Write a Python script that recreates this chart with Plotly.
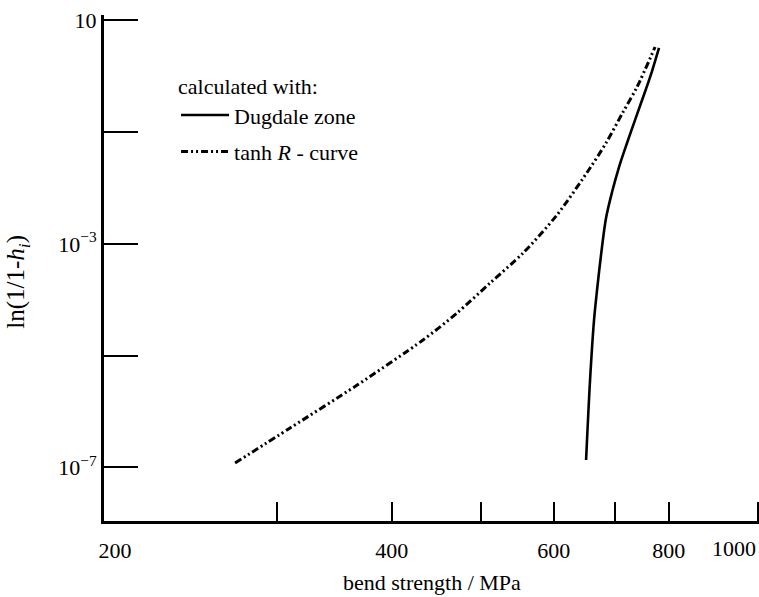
import plotly.graph_objects as go

# ---- data (bend strength in MPa, ln(1/1-h_i)) ----
tanh_strength = [270.2, 310.1, 366.8, 432.6, 471.0, 511.6, 555.6, 604.8, 657.1, 683.9, 713.7, 739.1, 773.2]
tanh_value = [1.19e-7, 5.04e-7, 2.96e-6, 1.90e-5, 5.77e-5, 1.99e-4, 6.84e-4, 3.28e-3, 2.28e-2, 6.38e-2, 0.229, 0.643, 3.34]

dug_strength = [650.6, 657.1, 663.7, 668.7, 675.4, 683.9, 694.3, 706.5, 720.8, 737.3, 755.9, 767.4, 780.9]
dug_value = [1.35e-7, 3.64e-6, 4.33e-5, 1.49e-4, 6.30e-4, 2.90e-3, 8.46e-3, 2.37e-2, 6.38e-2, 0.186, 0.592, 1.24, 3.21]

x_label_vals = [200, 400, 600, 800]
x_label_text = ["200", "400", "600", "800"]
x_tick_vals = [300, 400, 500, 600, 700, 800, 1000]
y_label_vals = [10, 1e-3, 1e-7]
y_label_text = ["10", "10<sup>\u22123</sup>", "10<sup>\u22127</sup>"]
y_minor_vals = [1e-1, 1e-5]

FONT = "Liberation Serif"
FS = 22

fig = go.Figure()
fig.add_trace(go.Scatter(
    x=dug_strength, y=dug_value, mode="lines", name="Dugdale zone",
    line=dict(color="black", width=2.6, shape="spline", smoothing=0.9),
    legendgroup="a",
))
fig.add_trace(go.Scatter(
    x=tanh_strength, y=tanh_value, mode="lines", name="tanh <i>R</i> - curve",
    line=dict(color="black", width=3, shape="spline", smoothing=0.8,
              dash="7px,3px,2px,3px,2px,3px"),
    legendgroup="b",
))

fig.update_layout(
    width=759, height=597,
    margin=dict(l=104, r=0, t=15, b=76),
    paper_bgcolor="white", plot_bgcolor="white",
    font=dict(family=FONT, size=FS, color="black"),
    showlegend=True,
    legend=dict(
        x=0.11, y=0.9, xanchor="left", yanchor="top",
        title=dict(text="calculated with:", font=dict(family=FONT, size=FS)),
        font=dict(family=FONT, size=FS),
        bgcolor="rgba(0,0,0,0)", tracegroupgap=5, traceorder="grouped",
        itemwidth=48,
    ),
    xaxis=dict(
        type="log", range=[2.2892, 3.0013],
        showline=True, linecolor="black", linewidth=3,
        showgrid=False, zeroline=False,
        tickmode="array", tickvals=x_label_vals, ticktext=x_label_text,
        ticks="", ticklabelstandoff=8,
        tickfont=dict(family=FONT, size=FS),
        minor=dict(tickmode="array", tickvals=x_tick_vals, ticks="inside",
                   ticklen=19, tickwidth=2.2, tickcolor="black", showgrid=False),
    ),
    yaxis=dict(
        type="log", range=[-7.963, 1.097],
        showline=True, linecolor="black", linewidth=3,
        showgrid=False, zeroline=False,
        tickmode="array", tickvals=y_label_vals, ticktext=y_label_text,
        ticks="inside", ticklen=34, tickwidth=2.4, tickcolor="black",
        tickfont=dict(family=FONT, size=FS),
        minor=dict(tickmode="array", tickvals=y_minor_vals, ticks="inside",
                   ticklen=34, tickwidth=2.4, tickcolor="black", showgrid=False),
    ),
    annotations=[
        dict(text="1000", x=3.0, xref="x", y=-0.025, yref="paper",
             xanchor="right", yanchor="top", showarrow=False,
             font=dict(family=FONT, size=FS)),
        dict(text="bend strength / MPa", x=0.5008, xref="paper", y=-0.1225, yref="paper",
             xanchor="center", yanchor="middle", showarrow=False,
             font=dict(family=FONT, size=FS)),
        dict(text="ln(1/1-<i>h<sub>i</sub></i>)", x=-0.132, xref="paper", y=0.472, yref="paper",
             xanchor="center", yanchor="middle", textangle=-90, showarrow=False,
             font=dict(family=FONT, size=25)),
    ],
)

fig.write_html(
    "out.html",
    config={"displayModeBar": False},
    post_script="document.body.style.margin='0px';document.body.style.overflow='hidden';",
)
